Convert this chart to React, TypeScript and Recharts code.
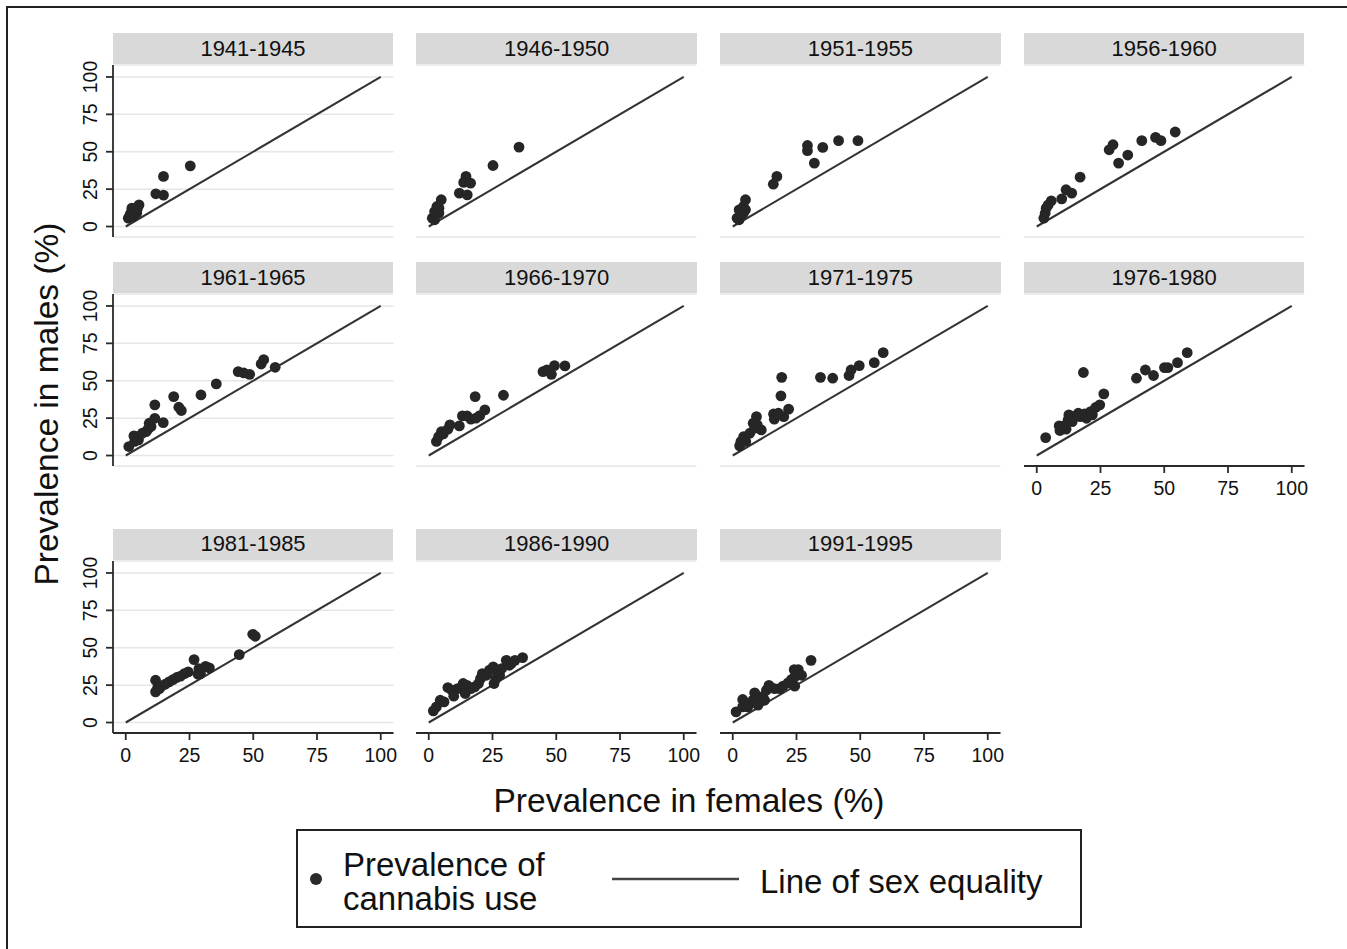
import React from 'react';
import { ScatterChart, Scatter, XAxis, YAxis, CartesianGrid, ReferenceLine } from 'recharts';

// ---------- data (female %, male %) per birth cohort ----------
const cohorts = [
  '1941-1945', '1946-1950', '1951-1955', '1956-1960',
  '1961-1965', '1966-1970', '1971-1975', '1976-1980',
  '1981-1985', '1986-1990', '1991-1995',
];

const p1941 = [[1.0,5.6],[1.7,7.8],[3,6.7],[2.4,12.3],[3.4,10],[4.3,8.9],[5.2,14.5],[4.5,11.5],[2,9],[11.8,21.9],[14.8,21.0],[14.8,33.5],[25.3,40.6]];
const p1946 = [[1.4,5.6],[2.3,4.5],[2.3,10],[3.2,13.4],[4,9],[4,12.3],[4.9,17.9],[12,22.3],[15.1,21.2],[13.7,29.5],[16.4,29],[14.6,33.5],[25.2,40.8],[35.4,53.1]];
const p1951 = [[1.7,5.6],[2.5,4.5],[3.4,7.8],[4.2,8.9],[2.5,11.2],[5,11.2],[4.2,13.4],[5,17.9],[15.9,28.3],[17.3,33.5],[29.3,50.7],[29.3,54.2],[32,42.4],[35.3,52.9],[41.5,57.4],[49.1,57.4]];
const p1956 = [[2.8,5.6],[3.3,8.9],[3.7,12.3],[4.5,14.5],[5.7,17.2],[9.8,18.5],[11.5,24.6],[13.7,22.3],[17,33],[28.4,51.3],[29.9,54.7],[32.1,42.4],[35.7,47.8],[41.2,57.4],[46.6,59.6],[48.7,57.4],[54.3,63.2]];
const p1961 = [[1.2,6],[3.5,9.4],[5,10.5],[3.2,13.1],[4.5,12.7],[6.5,14.9],[8,16],[8.7,17.6],[9.9,19.4],[9.2,21.6],[11.4,24.9],[14.7,22],[11.4,33.9],[18.8,39.4],[20.8,32.3],[21.8,30.1],[29.5,40.5],[35.5,47.9],[44.1,56.1],[46.3,55.2],[48.6,54.3],[53.1,61.2],[54.1,64.1],[58.6,59]];
const p1966 = [[3,9.4],[3.9,12.7],[5,16],[5.7,14.5],[7.5,17.6],[8.3,20.5],[12,19.8],[13.2,26.5],[15,26.5],[16.5,24.3],[18.5,25],[18.2,39.4],[20,26.7],[22,30.5],[29.3,40.3],[44.8,56.1],[46.3,57.2],[48.1,54.3],[49.3,60.1],[53.4,59.9]];
const p1971 = [[2.7,6.5],[3.2,9.4],[5.1,9.4],[4.3,12.7],[6.7,14.9],[8.6,18.3],[11.2,17.1],[8,21.6],[9.6,20.5],[9.3,26],[16,27.8],[16.3,24.3],[17.9,28.3],[20,26],[21.9,31],[18.9,39.9],[19.2,52.3],[34.4,52.3],[39.2,51.7],[45.6,53.5],[46.4,57.2],[49.6,60.1],[55.5,62.1],[59,68.8]];
const p1976 = [[3.5,12],[8.8,19.8],[9.1,16.7],[10.7,19.8],[11.5,17.6],[12.3,23.8],[12.6,27.2],[13.9,22.7],[15.2,26.5],[16.3,28.3],[17,26],[18.7,27.8],[19.5,24.9],[21.1,29.4],[21.8,27.2],[23.1,32.1],[24.7,33.9],[26.3,41.2],[18.3,55.5],[39.1,51.7],[42.6,57.2],[45.8,53.5],[50.1,58.8],[51.4,58.8],[55.2,62.1],[59,68.8]];
const p1981 = [[11.7,20.5],[11.7,28.3],[12.5,23.2],[13.2,22.7],[14,24.3],[15.5,25.6],[17,27.2],[18.5,28.7],[20,30.1],[21.5,31],[23,32.7],[24.5,33.9],[26.8,42.1],[28.3,32.3],[28.7,36.1],[29.3,32.7],[31.3,37.6],[32.8,36.5],[44.5,45.4],[49.8,59],[50.8,57.7]];
const p1986 = [[1.8,7.8],[3,10.5],[4.5,14.9],[6,13.8],[7.5,23.4],[9,21.6],[9.8,17.6],[11.3,22.7],[13.5,26.1],[14.3,19.4],[15,24.9],[16.5,22.7],[18,23.8],[19.5,26.1],[20.3,29.4],[21,32.7],[22.6,31.6],[23.8,35],[25.3,37.2],[25.6,26.1],[26.3,29.4],[27.1,33.9],[27.8,31.6],[28.6,36.1],[30.4,41.6],[31.6,38.3],[32.3,39.4],[33.8,41.6],[36.8,43.4]];
const p1991 = [[1.3,7.1],[3.9,10.5],[3.9,15.4],[5.9,10.5],[6.6,12.7],[7.9,14.9],[8.6,19.8],[9.2,13.8],[9.9,11.6],[10.5,17.1],[11.8,17.1],[12.5,14.9],[13.2,21.6],[14.2,24.9],[16.4,22.7],[18.4,22.7],[19.7,24.3],[21.7,26.5],[23,28.7],[24.3,24.3],[24.3,30.5],[24.1,35.4],[25.7,35.4],[27,31.6],[30.7,41.6]];

const cohortPoints = [p1941, p1946, p1951, p1956, p1961, p1966, p1971, p1976, p1981, p1986, p1991];

const tickValues = [0, 25, 50, 75, 100];
const equalityLine = [{ x: 0, y: 0 }, { x: 100, y: 100 }];

const xTitle = 'Prevalence in females (%)';
const yTitle = 'Prevalence in males (%)';
const legendDotLines = ['Prevalence of', 'cannabis use'];
const legendLineLabel = 'Line of sex equality';

// ---------- layout ----------
const FONT = '"Liberation Sans", Arial, Helvetica, sans-serif';
const INK = '#111';
const X_DOMAIN: [number, number] = [-5, 105];
const Y_DOMAIN: [number, number] = [-7, 108];
const PLOT_W = 280.5;
const PLOT_H = 172;
const Y_AXIS_W = 45;
const X_AXIS_H = 40;
const M_TOP = 5;
const M_RIGHT = 5;
const COL_X0 = [125.5, 429.2, 732.9, 1036.6];
const ROW_Y0 = [227, 456, 722.5];
const X_PER = PLOT_W / (X_DOMAIN[1] - X_DOMAIN[0]);
const Y_PER = PLOT_H / (Y_DOMAIN[1] - Y_DOMAIN[0]);

const YTick = (props: any) => {
  const { x, y, payload } = props;
  const cx = x - 14;
  return (
    <text x={cx} y={y} transform={`rotate(-90 ${cx} ${y})`} textAnchor="middle" dominantBaseline="central"
      fontFamily={FONT} fontSize={19.5} fill={INK}>{payload.value}</text>
  );
};

const XTick = (props: any) => {
  const { x, y, payload } = props;
  return (
    <text x={x} y={y + 13} textAnchor="middle" dominantBaseline="central"
      fontFamily={FONT} fontSize={19.5} fill={INK}>{payload.value}</text>
  );
};

const Dot = (p: any) => <circle cx={p.cx} cy={p.cy} r={5.4} fill="#262626" />;

function Panel({ index }: { index: number }) {
  const row = Math.floor(index / 4);
  const col = index % 4;
  const showX = row === 2 || index === 7;
  const showY = col === 0;
  const plotLeft = COL_X0[col] - (0 - X_DOMAIN[0]) * X_PER;
  const plotTop = ROW_Y0[row] - Y_DOMAIN[1] * Y_PER;
  const data = cohortPoints[index].map(([x, y]) => ({ x, y }));
  const axisStyle = { stroke: '#2a2a2a', strokeWidth: 1.8 };
  return (
    <>
      <div style={{
        position: 'absolute', left: plotLeft, top: plotTop - 32, width: PLOT_W, height: 31,
        background: '#d9d9d9', color: INK, fontFamily: FONT, fontSize: 22,
        display: 'flex', alignItems: 'center', justifyContent: 'center',
      }}>{cohorts[index]}</div>
      <div style={{ position: 'absolute', left: plotLeft - Y_AXIS_W, top: plotTop - M_TOP }}>
        <ScatterChart width={Y_AXIS_W + PLOT_W + M_RIGHT} height={M_TOP + PLOT_H + X_AXIS_H}
          margin={{ top: M_TOP, right: M_RIGHT, bottom: 0, left: 0 }}>
          <CartesianGrid horizontal vertical={false} stroke="#e6e6e6" strokeWidth={1.5} />
          <XAxis type="number" dataKey="x" domain={X_DOMAIN} ticks={tickValues} allowDataOverflow
            height={X_AXIS_H} interval={0}
            axisLine={showX ? axisStyle : false}
            tickLine={showX ? axisStyle : false}
            tickSize={7} tick={showX ? <XTick /> : false} />
          <YAxis type="number" dataKey="y" domain={Y_DOMAIN} ticks={tickValues} allowDataOverflow
            width={Y_AXIS_W} interval={0}
            axisLine={showY ? axisStyle : false}
            tickLine={showY ? axisStyle : false}
            tickSize={7} tick={showY ? <YTick /> : false} />
          <ReferenceLine segment={equalityLine} stroke="#333" strokeWidth={2.1} ifOverflow="visible" />
          <Scatter data={data} shape={Dot} isAnimationActive={false} />
        </ScatterChart>
      </div>
    </>
  );
}

export default function App() {
  return (
    <div style={{ position: 'absolute', left: 0, top: 0, width: 1347, height: 949, background: '#fff', overflow: 'hidden' }}>
      <div style={{
        position: 'absolute', left: 6, top: 6, width: 1360, height: 960,
        borderTop: '2px solid #222', borderLeft: '2px solid #222',
      }} />
      {cohorts.map((_, i) => <Panel key={i} index={i} />)}
      <svg width={1347} height={949} style={{ position: 'absolute', left: 0, top: 0, pointerEvents: 'none' }}>
        <text x={46} y={404} transform="rotate(-90 46 404)" textAnchor="middle" dominantBaseline="central"
          fontFamily={FONT} fontSize={33.5} fill={INK}>{yTitle}</text>
        <text x={689} y={800} textAnchor="middle" dominantBaseline="central"
          fontFamily={FONT} fontSize={33.5} fill={INK}>{xTitle}</text>
        <rect x={297} y={830} width={784} height={97} fill="none" stroke="#222" strokeWidth={2} />
        <circle cx={316} cy={879} r={6} fill="#2a2a2a" />
        <text x={343} y={864} dominantBaseline="central" fontFamily={FONT} fontSize={33} fill={INK}>{legendDotLines[0]}</text>
        <text x={343} y={898} dominantBaseline="central" fontFamily={FONT} fontSize={33} fill={INK}>{legendDotLines[1]}</text>
        <line x1={612} y1={879} x2={739} y2={879} stroke="#444" strokeWidth={2.6} />
        <text x={760} y={881} dominantBaseline="central" fontFamily={FONT} fontSize={33} fill={INK}>{legendLineLabel}</text>
      </svg>
    </div>
  );
}
